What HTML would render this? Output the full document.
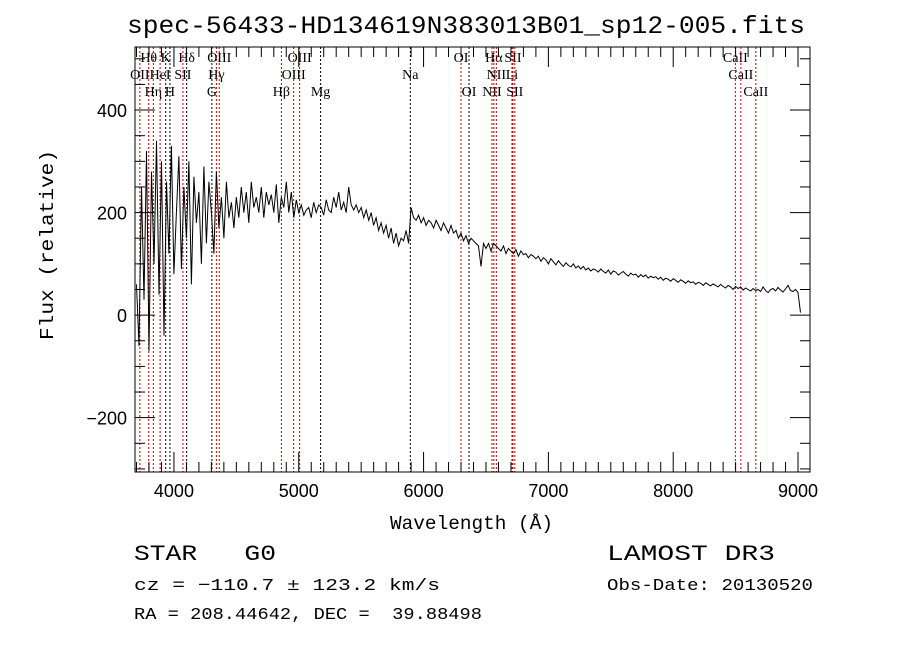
<!DOCTYPE html>
<html><head><meta charset="utf-8"><style>
html,body{margin:0;padding:0;background:#fff;}
svg text{font-family:"Liberation Sans",sans-serif;fill:#000;}
.ser{font-family:"Liberation Serif",serif !important;}
.mono{font-family:"Liberation Mono",monospace !important;}
</style></head><body>
<svg id="chart" width="900" height="649" viewBox="0 0 900 649" xmlns="http://www.w3.org/2000/svg">
<rect width="900" height="649" fill="#fff"/>
<text class="mono" x="127" y="33" font-size="25" textLength="678" lengthAdjust="spacingAndGlyphs">spec-56433-HD134619N383013B01_sp12-005.fits</text>
<g id="lines"></g>
<g id="spec"></g>
<g id="axes"></g>
<text class="mono" x="390" y="529" font-size="19" textLength="163" lengthAdjust="spacingAndGlyphs">Wavelength (Å)</text>
<text class="mono" transform="translate(53,340) rotate(-90)" font-size="19" textLength="190" lengthAdjust="spacingAndGlyphs">Flux (relative)</text>
<text class="mono" x="134" y="560" font-size="22" xml:space="preserve" textLength="142" lengthAdjust="spacingAndGlyphs">STAR   G0</text>
<text class="mono" x="134" y="590" font-size="17" textLength="306" lengthAdjust="spacingAndGlyphs">cz = −110.7 ± 123.2 km/s</text>
<text class="mono" x="134" y="619" font-size="17" xml:space="preserve" textLength="348" lengthAdjust="spacingAndGlyphs">RA = 208.44642, DEC =  39.88498</text>
<text class="mono" x="607" y="560" font-size="22" textLength="168" lengthAdjust="spacingAndGlyphs">LAMOST DR3</text>
<text class="mono" x="607" y="590" font-size="17" textLength="206" lengthAdjust="spacingAndGlyphs">Obs-Date: 20130520</text>
</svg>
<script>
const fluxStart = 3700;
const fluxStep = 20;
const fluxValues = [60,-60,250,30,320,-70,280,100,340,40,300,-40,260,120,330,80,
200,310,90,250,150,300,60,270,180,240,100,290,140,260,200,120,280,170,230,150,260,190,220,170,
230,190,250,200,240,180,260,210,230,200,250,190,240,215,235,200,255,180,230,210,260,200,240,190,
225,200,215,195,205,210,190,220,200,215,210,195,225,205,200,230,210,240,205,220,200,250,215,205,
215,200,210,190,205,185,200,175,190,165,180,160,175,150,170,140,160,135,150,145,165,140,210,190,
185,195,180,190,175,185,180,170,185,175,165,180,170,160,175,160,165,150,160,145,155,140,150,145,
140,135,95,140,130,140,125,140,135,130,125,135,120,130,125,120,128,115,125,118,120,112,118,115,
110,115,105,112,108,100,110,104,98,106,100,95,102,97,94,100,92,96,90,95,88,92,86,90,
88,84,90,85,82,88,80,86,84,78,82,85,80,76,82,78,80,74,79,75,78,72,76,73,
75,70,74,68,72,70,66,71,68,64,69,66,62,67,63,65,60,64,62,58,63,60,57,61,
58,55,60,56,53,58,55,50,56,52,55,49,53,50,47,52,48,50,46,55,48,44,50,
52,47,54,49,45,51,58,48,46,50,44,5];
const lineWaves = [3727,3798,3835,3889,3934,3968,4072,4102,4304,4340,4363,4861,4959,5007,5175,5894,6300,6364,6548,6563,6583,6708,6716,6731,8498,8542,8662];
const lineNames = ["OII","Hθ","Hη","HeI","K","H","SII","Hδ","G","Hγ","OIII","Hβ","OIII","OIII","Mg","Na","OI","OI","NII","Hα","NII","Li","SII","SII","CaII","CaII","CaII"];
const lineRows = [1,0,2,1,0,2,1,0,2,1,0,2,1,0,2,1,0,2,2,0,1,1,0,2,0,1,2];
const lineColors = ["r","r","r","r","k","k","r","k","k","r","r","r","r","r","k","k","r","k","r","r","r","r","r","r","r","r","r"];
const xTicks = [4000,5000,6000,7000,8000,9000];
const yTicks = [-200,0,200,400];

const L=135,R=810,T=47,B=472, X0=3688, X1=9096, Y0=-306, Y1=523;
const xs=w=>L+(w-X0)/(X1-X0)*(R-L);
const ys=v=>B-(v-Y0)/(Y1-Y0)*(B-T);
const NS="http://www.w3.org/2000/svg";
function mk(tag,attrs,parent){const e=document.createElementNS(NS,tag);for(const k in attrs)e.setAttribute(k,attrs[k]);parent.appendChild(e);return e;}

const gl=document.getElementById('lines');
lineWaves.forEach((w,i)=>{
  const x=xs(w);
  const ln=mk('line',{x1:x,x2:x,y1:T,y2:B,stroke:lineColors[i]==='r'?'#c00000':'#000','stroke-width':1,'stroke-dasharray':'2,2'},gl);
  
  
  const t=mk('text',{x:x,y:62+lineRows[i]*17,'font-size':14,'text-anchor':'middle',class:'ser'},gl);
  t.textContent=lineNames[i];
  
  
});

const gs=document.getElementById('spec');
let d='';
fluxValues.forEach((v,i)=>{const w=fluxStart+i*fluxStep;d+=(i?'L':'M')+xs(w).toFixed(1)+','+ys(v).toFixed(1);});
const p=mk('path',{d:d,fill:'none',stroke:'#000','stroke-width':1},gs);



const ga=document.getElementById('axes');
const fr=mk('rect',{x:L,y:T,width:R-L,height:B-T,fill:'none',stroke:'#000','stroke-width':1},ga);


for(let w=3700;w<=9096;w+=100){
  const x=xs(w);const maj=w%1000===0;const len=maj?20:10;
  mk('line',{x1:x,x2:x,y1:B,y2:B-len,stroke:'#000'},ga);
  mk('line',{x1:x,x2:x,y1:T,y2:T+len,stroke:'#000'},ga);
}
xTicks.forEach(w=>{
  const t=mk('text',{x:xs(w),y:B+25,'font-size':18,'text-anchor':'middle'},ga);
  t.textContent=w;
  
  
});
for(let v=-300;v<=520;v+=50){
  const y=ys(v);const maj=v%200===0;const len=maj?20:10;
  mk('line',{x1:L,x2:L+len,y1:y,y2:y,stroke:'#000'},ga);
  mk('line',{x1:R,x2:R-len,y1:y,y2:y,stroke:'#000'},ga);
}
yTicks.forEach(v=>{
  const t=mk('text',{x:L-8,y:ys(v)+7,'font-size':18,'text-anchor':'end'},ga);
  t.textContent=v<0?'−'+(-v):v;
  
  
});
</script>
</body></html>
